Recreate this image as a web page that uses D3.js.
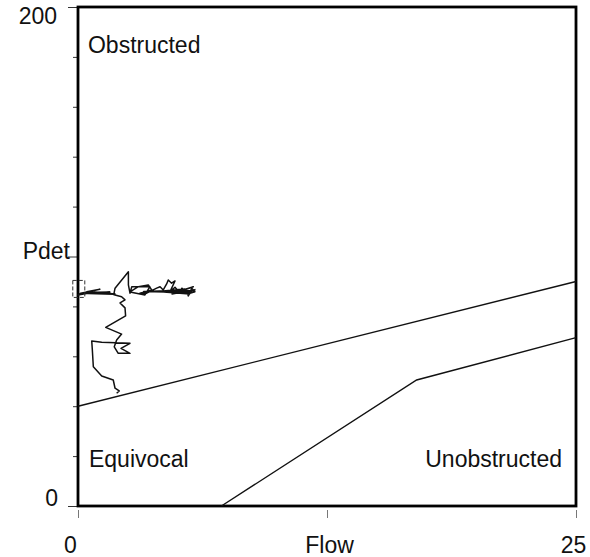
<!DOCTYPE html>
<html>
<head>
<meta charset="utf-8">
<script src="https://cdn.jsdelivr.net/npm/d3@7"></script>
<style>
  body { margin: 0; background: #fff; }
  text { font-family: "Liberation Sans", Arial, sans-serif; fill: #111; }
</style>
</head>
<body>
<svg id="chart"></svg>
<script>
const width = 590, height = 557;
const margin = { left: 78, right: 14, top: 7, bottom: 51 };

// ICS nomogram boundaries
const upperFlow = [0, 25];
const upperPdet = [40, 90];
const lowerFlow = [7.2, 17, 25];
const lowerPdet = [0, 50.5, 67.5];

// pressure-flow trace (flow, pdet)
const traceFlow = [1.94, 2.07, 1.86, 1.77, 1.19, 0.77, 0.72, 0.69, 1.19, 2.61, 2.16, 2.61, 2.02, 1.82, 1.94, 2.19, 1.39, 2.39, 2.36, 2.11, 2.36, 2.19, 1.86,
  1.61, 0.44, 1.10, 0.14, 0.0, 0.85, 1.86, 0.3, 1.6, 0.5, 1.8, 1.86, 2.53, 2.53, 2.61, 2.70, 3.61, 3.36, 2.61, 3.03, 3.53, 3.70, 3.11, 3.45, 3.95, 4.12, 4.28,
  4.45, 4.53, 4.70, 4.87, 4.62, 4.87, 5.12, 5.21, 5.46, 5.54, 5.71, 5.87, 5.62, 5.27, 5.79, 5.02, 5.37, 4.72, 5.52, 5.71,
  5.0, 5.6, 4.3, 5.2, 4.0, 5.8, 4.5, 3.3, 5.5, 5.9];
const tracePdet = [45.2, 46.1, 47.2, 50.5, 52.1, 55.8, 62.5, 66.1, 65.6, 65.2, 63.2, 61.2, 61.2, 63.8, 66.5, 68.9, 71.6, 76.2, 79.4, 81.4, 82.6, 83.9, 84.6,
  85.3, 85.9, 86.9, 85.3, 84.6, 85.8, 85.0, 85.6, 85.8, 85.2, 84.9, 87.3, 93.9, 88.6, 85.3, 87.9, 87.9, 84.6, 85.8, 87.9, 88.6, 86.6, 85.3, 85.3, 87.3, 87.9, 86.6,
  89.0, 90.6, 89.3, 90.2, 85.9, 87.7, 85.3, 87.3, 85.9, 84.2, 87.3, 85.9, 85.3, 86.6, 87.9, 85.8, 87.0, 85.0, 86.2, 85.9,
  86.5, 85.0, 85.8, 86.9, 86.0, 86.4, 86.3, 86.0, 85.6, 86.8];

// marker at the start of the trace
const markerFlow = 0.04, markerPdet = 87.2;

const yTicks = [0, 20, 40, 60, 80, 100, 120, 140, 160, 180, 200];
const yLabels = [
  { v: 0, t: "0", xe: 58, dy: 0 },
  { v: 100, t: "Pdet", xe: 70, dy: 2 },
  { v: 200, t: "200", xe: 57, dy: 17 }
];
const xTicks = [0, 12.5, 25];
const xLabels = ["0", "Flow", "25"];

const svg = d3.select("#chart").attr("width", width).attr("height", height);

const x = d3.scaleLinear().domain([0, 25]).range([margin.left, width - margin.right]);
const y = d3.scaleLinear().domain([0, 200]).range([height - margin.bottom, margin.top]);

const line = d3.line().x(d => x(d[0])).y(d => y(d[1]));

// y axis ticks and labels
const yAxis = d3.axisLeft(y).tickValues(yTicks).tickSize(5).tickFormat("");
svg.append("g").attr("transform", `translate(${margin.left},0)`).call(yAxis)
  .call(g => g.select(".domain").remove())
  .call(g => g.selectAll(".tick line").attr("stroke", "#333")
    .attr("x2", d => (d % 100 === 0 ? -10 : -5)));

svg.selectAll(".ylab").data(yLabels).enter().append("text")
  .attr("class", "ylab")
  .attr("x", d => d.xe).attr("y", d => y(d.v) + d.dy)
  .attr("text-anchor", "end").attr("font-size", 23).text(d => d.t);

// x axis ticks and labels
const xAxis = d3.axisBottom(x).tickValues(xTicks).tickSize(8).tickPadding(19).tickFormat((d, i) => xLabels[i]);
svg.append("g").attr("transform", `translate(0,${y(0) + 4})`).call(xAxis)
  .call(g => g.select(".domain").remove())
  .call(g => g.selectAll(".tick line").attr("stroke", "#777"))
  .call(g => g.selectAll(".tick text").attr("font-size", 23)
    .attr("font-family", "Liberation Sans, Arial, sans-serif").attr("fill", "#111")
    .attr("dx", (d, i) => (i === 0 ? -8 : i === 2 ? -3 : 2)));

// frame
svg.append("rect")
  .attr("x", x(0)).attr("y", y(200))
  .attr("width", x(25) - x(0)).attr("height", y(0) - y(200))
  .attr("fill", "none").attr("stroke", "#000").attr("stroke-width", 2.8);

// boundary lines
svg.append("path").datum(upperFlow.map((f, i) => [f, upperPdet[i]]))
  .attr("d", line).attr("fill", "none").attr("stroke", "#111").attr("stroke-width", 1.4);
svg.append("path").datum(lowerFlow.map((f, i) => [f, lowerPdet[i]]))
  .attr("d", line).attr("fill", "none").attr("stroke", "#111").attr("stroke-width", 1.4);

// trace
svg.append("path").datum(traceFlow.map((f, i) => [f, tracePdet[i]]))
  .attr("d", line).attr("fill", "none").attr("stroke", "#111").attr("stroke-width", 1.5)
  .attr("stroke-linejoin", "round");

svg.append("rect")
  .attr("x", x(markerFlow) - 6).attr("y", y(markerPdet) - 8)
  .attr("width", 12).attr("height", 17)
  .attr("fill", "none").attr("stroke", "#333").attr("stroke-width", 1).attr("stroke-dasharray", "4,2");

// region labels
const regionText = [
  { t: "Obstructed", f: 0.5, p: 181.5, a: "start" },
  { t: "Equivocal", f: 0.55, p: 15.6, a: "start" },
  { t: "Unobstructed", f: 24.3, p: 15.6, a: "end" }
];
svg.selectAll(".region").data(regionText).enter().append("text")
  .attr("class", "region")
  .attr("x", d => x(d.f)).attr("y", d => y(d.p))
  .attr("text-anchor", d => d.a).attr("font-size", 23).text(d => d.t);
</script>
</body>
</html>
